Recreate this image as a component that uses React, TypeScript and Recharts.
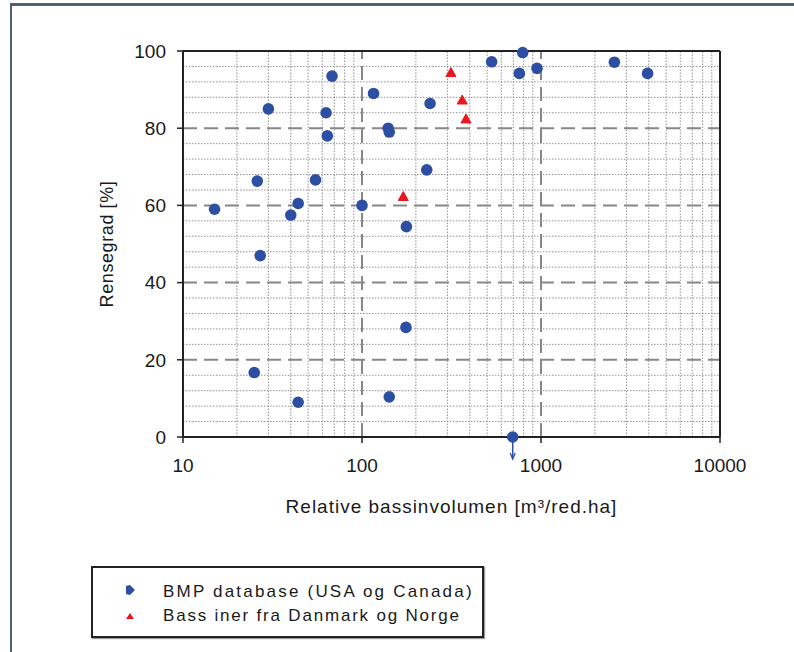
import React from "react";
import {
  ScatterChart,
  Scatter,
  XAxis,
  YAxis,
  ReferenceLine,
  Legend,
} from "recharts";

// ---- data ----
const bmpX = [15, 25, 26, 27, 30, 40, 44, 44, 55, 63, 64, 68, 100, 116, 140, 142, 142, 177, 176, 230, 240, 530, 757, 790, 950, 2570, 3940, 695];
const bmpY = [59, 16.7, 66.3, 47, 85, 57.5, 60.5, 9, 66.6, 84, 78, 93.5, 60, 89, 80, 79, 10.4, 54.5, 28.4, 69.2, 86.4, 97.2, 94.2, 99.6, 95.5, 97.1, 94.2, 0];
const dkX = [314, 363, 381, 170];
const dkY = [94.4, 87.3, 82.4, 62.3];

const seriesNames = ["BMP database (USA og Canada)", "Bass iner fra Danmark og Norge"];

const xTicks = [10, 100, 1000, 10000];
const yTicks = [0, 20, 40, 60, 80, 100];
const xMajor = [100, 1000];
const yMajor = [20, 40, 60, 80];
const xMinor = [20, 30, 40, 50, 60, 70, 80, 90, 200, 300, 400, 500, 600, 700, 800, 900, 2000, 3000, 4000, 5000, 6000, 7000, 8000, 9000];
const yMinor = [4, 8, 12, 16, 24, 28, 32, 36, 44, 48, 52, 56, 64, 68, 72, 76, 84, 88, 92, 96];

const bmpData = bmpX.map((x, i) => ({ x, y: bmpY[i] }));
const dkData = dkX.map((x, i) => ({ x, y: dkY[i] }));

const BLUE = "#2c4ea3";
const RED = "#e8161e";
const TEXT = "#1a1a1a";
const FONT = "'Liberation Sans', Arial, sans-serif";

const BlueDot = (props: any) => {
  const { cx, cy, payload } = props;
  if (cx == null || cy == null) return null;
  return (
    <g>
      {payload && payload.y === 0 && (
        <g>
          <line x1={cx} y1={cy} x2={cx} y2={cy + 21} stroke={BLUE} strokeWidth={1.5} />
          <path d={`M${cx - 2.5},${cy + 16} L${cx},${cy + 22} L${cx + 2.5},${cy + 16}`} fill="none" stroke={BLUE} strokeWidth={1.3} />
        </g>
      )}
      <circle cx={cx} cy={cy} r={5.8} fill={BLUE} />
    </g>
  );
};

const RedTri = (props: any) => {
  const { cx, cy } = props;
  if (cx == null || cy == null) return null;
  return <path d={`M${cx},${cy - 5} L${cx + 5},${cy + 4} L${cx - 5},${cy + 4} Z`} fill={RED} stroke={RED} strokeWidth={1} strokeLinejoin="round" />;
};

const LegendBox = () => (
  <div
    style={{
      width: 389,
      height: 68,
      border: "2px solid #222",
      background: "#fff",
      fontFamily: FONT,
      fontSize: 17,
      color: TEXT,
      position: "relative",
      boxShadow: "1px 1px 1px #999",
    }}
  >
    <svg width={20} height={60} style={{ position: "absolute", left: 27, top: 8 }}>
      <path d="M6,10 L10,9 L15,14 L10,19 L6,18 Z" fill={BLUE} />
      <path d="M10,37 L14,43 L6,43 Z" fill={RED} />
    </svg>
    <div style={{ position: "absolute", left: 70, top: 13, whiteSpace: "nowrap", lineHeight: "22px", letterSpacing: 2.2 }}>
      {seriesNames[0]}
    </div>
    <div style={{ position: "absolute", left: 70, top: 37, whiteSpace: "nowrap", lineHeight: "22px", letterSpacing: 1.8 }}>
      {seriesNames[1]}
    </div>
  </div>
);

const YTitle = (props: any) => {
  const vb = props.viewBox || {};
  const cy = vb.y + vb.height / 2;
  return (
    <text
      x={113}
      y={cy}
      transform={`rotate(-90, 113, ${cy})`}
      textAnchor="middle"
      fill={TEXT}
      fontFamily={FONT}
      fontSize={18}
      letterSpacing={0.6}
    >
      Rensegrad [%]
    </text>
  );
};

export default function App() {
  return (
    <div style={{ position: "fixed", left: 0, top: 0, width: 794, height: 652, overflow: "hidden", background: "#fff" }}>
      <div
        style={{
          position: "absolute",
          left: 10,
          top: 3,
          width: 800,
          height: 700,
          borderTop: "3px solid #4a6272",
          borderLeft: "2px solid #4a6272",
        }}
      />
      <div style={{ position: "absolute", left: 0, top: 0 }}>
        <ScatterChart width={794} height={652} margin={{ top: 51, right: 74, left: 113, bottom: 135 }}>
          {yMinor.map((v) => (
            <ReferenceLine key={"ym" + v} y={v} stroke="#939393" strokeDasharray="1.5 1.5" strokeWidth={1} />
          ))}
          {xMinor.map((v) => (
            <ReferenceLine key={"xm" + v} x={v} stroke="#939393" strokeDasharray="1.5 1.5" strokeWidth={1} />
          ))}
          {yMajor.map((v) => (
            <ReferenceLine key={"yM" + v} y={v} stroke="#878787" strokeDasharray="14 7" strokeWidth={2} />
          ))}
          {xMajor.map((v) => (
            <ReferenceLine key={"xM" + v} x={v} stroke="#878787" strokeDasharray="14 7" strokeWidth={2} />
          ))}
          <ReferenceLine y={100} stroke="#222" strokeWidth={2} />
          <ReferenceLine x={10000} stroke="#222" strokeWidth={2} />
          <XAxis
            type="number"
            dataKey="x"
            scale="log"
            domain={[10, 10000]}
            ticks={xTicks}
            allowDataOverflow
            height={80}
            axisLine={{ stroke: "#222", strokeWidth: 2 }}
            tickLine={{ stroke: "#222", strokeWidth: 1.5 }}
            tickSize={6}
            tickMargin={16}
            tick={{ fill: TEXT, fontSize: 19, fontFamily: FONT }}
            label={{
              value: "Relative bassinvolumen [m³/red.ha]",
              position: "insideBottom",
              offset: 4,
              fill: TEXT,
              fontSize: 19,
              fontFamily: FONT,
              letterSpacing: 1,
            }}
          />
          <YAxis
            type="number"
            dataKey="y"
            domain={[0, 100]}
            ticks={yTicks}
            width={70}
            axisLine={{ stroke: "#222", strokeWidth: 2 }}
            tickLine={{ stroke: "#222", strokeWidth: 1.5 }}
            tickSize={6}
            tickMargin={11}
            tick={{ fill: TEXT, fontSize: 19, fontFamily: FONT }}
            label={<YTitle />}
          />
          <Legend
            layout="vertical"
            align="center"
            verticalAlign="middle"
            content={<LegendBox />}
            wrapperStyle={{ position: "absolute", left: 91, top: 566, width: 393, height: 72 }}
          />
          <Scatter name={seriesNames[0]} data={bmpData} shape={<BlueDot />} isAnimationActive={false} />
          <Scatter name={seriesNames[1]} data={dkData} shape={<RedTri />} isAnimationActive={false} />
        </ScatterChart>
      </div>
    </div>
  );
}
